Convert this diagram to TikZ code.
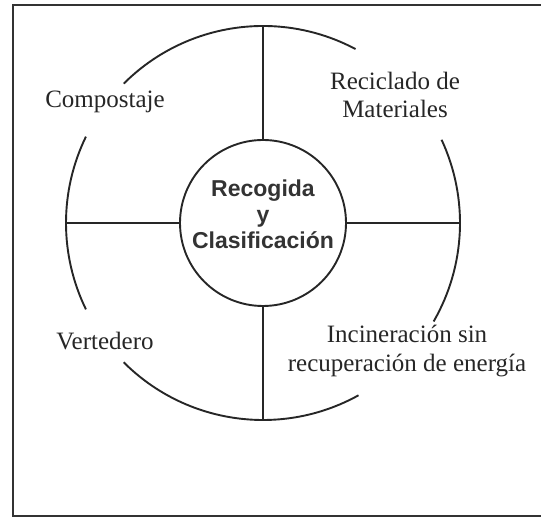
\documentclass[tikz,border=0pt]{standalone}
\usepackage{fontspec}
\setmainfont{Liberation Serif}
\setsansfont{Liberation Sans}
\tikzset{
  ring/.style={line width=1.9pt, draw=black!85},
  label/.style={align=center, font=\fontsize{25}{28.5}\selectfont, text=black!85},
  hub/.style={circle, ring, minimum size=166pt, inner sep=0pt}
}
\begin{document}
\begin{tikzpicture}[x=1pt,y=1pt]
\useasboundingbox (0,0) rectangle (541,518);
% frame, open at the right edge
\draw[line width=2.2pt, draw=black!80] (545,513) -- (13,513) -- (13,2) -- (545,2);

\coordinate (c) at (263,295);
\node[hub] (rc) at (c) {};
\node[align=center, font=\sffamily\bfseries\fontsize{23}{26}\selectfont, text=black!80]
  (rctext) at ([yshift=9pt]c) {Recogida\\y\\Clasificación};

% outer ring, broken where the labels sit
\draw[ring] ([shift={(62:197)}]c) arc[start angle=62, end angle=135, radius=197pt];
\draw[ring] ([shift={(154:197)}]c) arc[start angle=154, end angle=206, radius=197pt];
\draw[ring] ([shift={(225:197)}]c) arc[start angle=225, end angle=299, radius=197pt];
\draw[ring] ([shift={(-30:197)}]c) arc[start angle=-30, end angle=25, radius=197pt];

\coordinate (n) at ([shift={(90:197)}]c);
\coordinate (s) at ([shift={(270:197)}]c);
\coordinate (w) at ([shift={(180:197)}]c);
\coordinate (e) at ([shift={(0:197)}]c);
\draw[ring] (rc.north) -- (n);
\draw[ring] (rc.south) -- (s);
\draw[ring] (rc.west) -- (w);
\draw[ring] (rc.east) -- (e);

\node[label] (comp) at (105,416) {Compostaje};
\node[label] (recic) at (395,423) {Reciclado de\\Materiales};
\node[label] (vert) at (105,177) {Vertedero};
\node[label] (incin) at (407,167) {Incineración sin\\recuperación de energía};
\end{tikzpicture}
\end{document}
